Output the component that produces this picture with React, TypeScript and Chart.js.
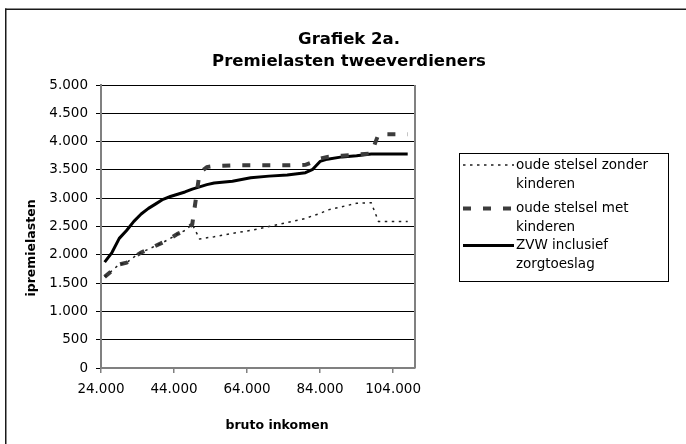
import { useEffect, useRef } from "react";
import { Chart, registerables } from "chart.js";

Chart.register(...registerables);

// ---- data ----
const income = [
  25000, 27000, 29000, 31000, 33000, 35000, 37000, 39000, 41000, 43000, 45000,
  47000, 49000, 51000, 53000, 55000, 60000, 65000, 70000, 75000, 80000, 82000,
  84000, 86000, 90000, 94000, 98000, 100000, 102000, 105000, 108000,
];
const zonderKinderen = [
  1610, 1720, 1830, 1860, 1960, 2040, 2100, 2160, 2220, 2290, 2370, 2430, 2540,
  2280, 2300, 2320, 2380, 2430, 2500, 2570, 2640, 2690, 2730, 2790, 2850, 2910,
  2920, 2590, 2590, 2590, 2590,
];
const metKinderen = [
  1610, 1720, 1830, 1860, 1960, 2040, 2100, 2160, 2220, 2290, 2370, 2430, 2540,
  3450, 3550, 3570, 3580, 3580, 3580, 3580, 3590, 3640, 3700, 3730, 3750, 3770,
  3790, 4130, 4130, 4130, 4130,
];
const zvwZorgtoeslag = [
  1870, 2040, 2290, 2430, 2590, 2720, 2820, 2900, 2980, 3030, 3070, 3110, 3160,
  3200, 3240, 3270, 3300, 3360, 3390, 3410, 3450, 3510, 3650, 3690, 3730, 3750,
  3780, 3780, 3780, 3780, 3780,
];
const seriesLabels = [
  ["oude stelsel zonder", "kinderen"],
  ["oude stelsel met", "kinderen"],
  ["ZVW inclusief", "zorgtoeslag"],
];
const xTicks = [24000, 44000, 64000, 84000, 104000];
const titleLines = ["Grafiek 2a.", "Premielasten tweeverdieners"];
const xTitle = "bruto inkomen";
const yTitle = "ipremielasten";

const FONT = '"DejaVu Sans", "Liberation Sans", sans-serif';
const fmt = (v: number) =>
  String(Math.round(v)).replace(/\B(?=(\d{3})+(?!\d))/g, ".");

const decor = {
  id: "decor",
  afterDraw(chart: any) {
    const { ctx, chartArea: a } = chart;
    ctx.save();
    // outer frame (top and left edges visible)
    ctx.fillStyle = "#1a1a1a";
    ctx.fillRect(5, 8.5, 700, 1.5);
    ctx.fillRect(5, 8.5, 1.5, 500);
    // right border of plot area
    ctx.strokeStyle = "#808080";
    ctx.lineWidth = 2;
    ctx.beginPath();
    ctx.moveTo(a.right, a.top);
    ctx.lineTo(a.right, a.bottom);
    ctx.stroke();
    // main title
    ctx.fillStyle = "#000";
    ctx.textAlign = "center";
    ctx.textBaseline = "alphabetic";
    ctx.font = `bold 16.5px ${FONT}`;
    ctx.fillText(titleLines[0], 349, 44);
    ctx.fillText(titleLines[1], 349, 66);
    // axis titles
    ctx.font = `bold 12.5px ${FONT}`;
    ctx.fillText(xTitle, 277, 429);
    ctx.save();
    ctx.translate(32, 248);
    ctx.rotate(-Math.PI / 2);
    ctx.textBaseline = "middle";
    ctx.fillText(yTitle, 0, 0);
    ctx.restore();
    // legend
    ctx.strokeStyle = "#000";
    ctx.lineWidth = 1;
    ctx.strokeRect(459.5, 153.5, 209, 128);
    const ys = [165, 208.5, 245.5];
    ctx.font = `13.5px ${FONT}`;
    ctx.textAlign = "left";
    ctx.textBaseline = "middle";
    chart.data.datasets.forEach((ds: any, i: number) => {
      ctx.save();
      ctx.strokeStyle = ds.borderColor;
      ctx.lineWidth = ds.borderWidth;
      ctx.setLineDash(ds.borderDash || []);
      ctx.beginPath();
      ctx.moveTo(463, ys[i]);
      ctx.lineTo(514, ys[i]);
      ctx.stroke();
      ctx.restore();
      ctx.fillStyle = "#000";
      seriesLabels[i].forEach((t, j) => ctx.fillText(t, 516, ys[i] + j * 19));
    });
    ctx.restore();
  },
};

export default function App() {
  const ref = useRef<HTMLCanvasElement | null>(null);

  useEffect(() => {
    if (!ref.current) return;
    const pts = (vals: number[]) => income.map((x, i) => ({ x, y: vals[i] }));
    const chart = new Chart(ref.current, {
      type: "line",
      data: {
        datasets: [
          {
            label: seriesLabels[0].join(" "),
            data: pts(zonderKinderen),
            borderColor: "#1e1e1e",
            borderWidth: 1.5,
            borderDash: [2.5, 4.5],
            pointRadius: 0,
            tension: 0,
          },
          {
            label: seriesLabels[1].join(" "),
            data: pts(metKinderen),
            borderColor: "#3c3c3c",
            borderWidth: 4,
            borderDash: [8, 12],
            pointRadius: 0,
            tension: 0,
          },
          {
            label: seriesLabels[2].join(" "),
            data: pts(zvwZorgtoeslag),
            borderColor: "#000",
            borderWidth: 3,
            pointRadius: 0,
            tension: 0,
            borderJoinStyle: "round",
          },
        ],
      } as any,
      options: {
        animation: false,
        responsive: false,
        devicePixelRatio: 1,
        layout: { padding: { left: 0, right: 271, top: 85, bottom: 0 } },
        plugins: {
          legend: { display: false },
          title: { display: false },
          tooltip: { enabled: false },
        },
        scales: {
          x: {
            type: "linear",
            min: 24000,
            max: 110000,
            afterFit: (s: any) => {
              s.height = 76;
            },
            afterBuildTicks: (s: any) => {
              s.ticks = xTicks.map((v) => ({ value: v }));
            },
            ticks: {
              color: "#000",
              font: { family: FONT, size: 13.5 },
              padding: 8,
              maxRotation: 0,
              autoSkip: false,
              callback: (v: any) => fmt(Number(v)),
            },
            grid: {
              drawOnChartArea: false,
              drawTicks: true,
              tickLength: 5,
              color: "#808080",
              lineWidth: 1.5,
            },
            border: { display: true, color: "#808080", width: 2 },
          },
          y: {
            type: "linear",
            min: 0,
            max: 5000,
            afterFit: (s: any) => {
              s.width = 101;
            },
            ticks: {
              stepSize: 500,
              color: "#000",
              font: { family: FONT, size: 13.5 },
              padding: 8,
              callback: (v: any) => fmt(Number(v)),
            },
            grid: {
              color: "#000",
              lineWidth: 1,
              drawTicks: true,
              tickLength: 5,
            },
            border: { display: true, color: "#808080", width: 2 },
          },
        },
      } as any,
      plugins: [decor],
    });
    return () => chart.destroy();
  }, []);

  return (
    <div style={{ position: "absolute", left: 0, top: 0, width: 686, height: 444, background: "#fff" }}>
      <canvas ref={ref} width={686} height={444} style={{ display: "block" }} />
    </div>
  );
}
